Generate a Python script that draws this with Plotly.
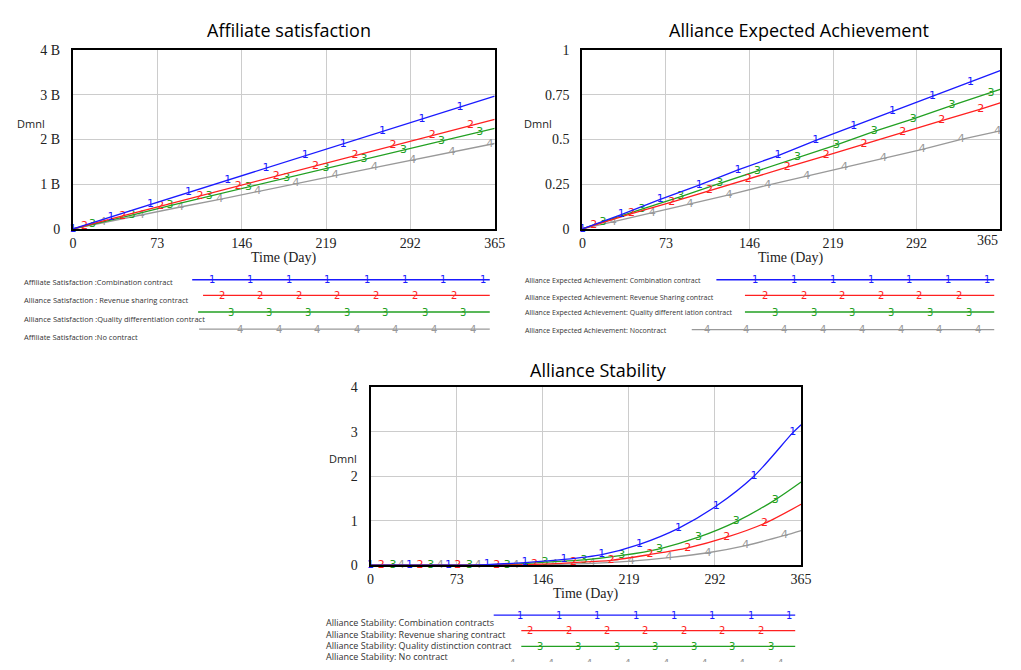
import plotly.graph_objects as go

W, H = 1021, 670
def px(x): return x / W
def py(y): return 1 - y / H

# ---------------- DATA ----------------
day_ticks = [0, 73, 146, 219, 292, 365]

# Affiliate satisfaction (in billions)
as_t_comb = [0, 33, 67, 100, 134, 167, 201, 234, 268, 302, 335, 365]
as_v_comb = [0, 0.27, 0.55, 0.81, 1.09, 1.36, 1.64, 1.90, 2.18, 2.46, 2.73, 2.97]
as_t_rev = [0, 10, 43, 76, 110, 143, 176, 210, 244, 277, 311, 344, 365]
as_v_rev = [0, 0.07, 0.29, 0.51, 0.74, 0.96, 1.18, 1.41, 1.64, 1.86, 2.09, 2.31, 2.45]
as_t_qual = [0, 17, 51, 84, 118, 152, 185, 219, 252, 286, 319, 352, 365]
as_v_qual = [0, 0.10, 0.31, 0.52, 0.73, 0.94, 1.14, 1.35, 1.55, 1.76, 1.97, 2.17, 2.25]
as_t_none = [0, 26, 59, 93, 127, 160, 193, 227, 261, 294, 328, 361, 365]
as_v_none = [0, 0.14, 0.31, 0.49, 0.66, 0.84, 1.01, 1.19, 1.37, 1.54, 1.72, 1.89, 1.91]
as_ticks = [0, 1, 2, 3, 4]
as_ticktext = ["0", "1 B", "2 B", "3 B", "4 B"]

# Alliance expected achievement
ea_t_comb = [0, 34, 68, 102, 136, 171, 204, 237, 271, 306, 339, 365]
ea_v_comb = [0, 0.08, 0.165, 0.245, 0.33, 0.41, 0.495, 0.575, 0.655, 0.74, 0.82, 0.885]
ea_t_rev = [0, 10, 43, 78, 111, 145, 179, 213, 246, 280, 314, 348, 365]
ea_v_rev = [0, 0.02, 0.085, 0.15, 0.215, 0.28, 0.345, 0.41, 0.475, 0.54, 0.605, 0.67, 0.705]
ea_t_qual = [0, 18, 52, 86, 120, 153, 188, 222, 255, 289, 323, 357, 365]
ea_v_qual = [0, 0.04, 0.11, 0.18, 0.255, 0.325, 0.40, 0.47, 0.545, 0.615, 0.69, 0.76, 0.78]
ea_t_none = [0, 27, 61, 94, 128, 162, 196, 229, 263, 297, 331, 363, 365]
ea_v_none = [0, 0.04, 0.09, 0.14, 0.19, 0.245, 0.295, 0.345, 0.395, 0.445, 0.50, 0.545, 0.548]
ea_ticks = [0, 0.25, 0.5, 0.75, 1]
ea_ticktext = ["0", "0.25", "0.5", "0.75", "1"]

# Alliance stability
st_t_comb = [0, 33, 66, 99, 131, 164, 196, 228, 261, 293, 325, 358, 365]
st_v_comb = [0, 0, 0, 0.015, 0.06, 0.13, 0.24, 0.47, 0.83, 1.33, 2.0, 2.98, 3.16]
st_t_rev = [0, 9, 42, 74, 107, 139, 172, 204, 237, 269, 302, 334, 365]
st_v_rev = [0, 0, 0, 0, 0.005, 0.02, 0.06, 0.11, 0.24, 0.39, 0.63, 0.94, 1.37]
st_t_qual = [0, 19, 51, 84, 116, 148, 181, 213, 245, 278, 310, 343, 365]
st_v_qual = [0, 0, 0, 0, 0.01, 0.07, 0.12, 0.22, 0.37, 0.63, 0.98, 1.47, 1.87]
st_t_none = [0, 26, 59, 91, 123, 156, 188, 221, 253, 286, 318, 351, 365]
st_v_none = [0, 0, 0, 0, 0, 0.02, 0.04, 0.09, 0.17, 0.28, 0.44, 0.67, 0.78]
st_ticks = [0, 1, 2, 3, 4]
st_ticktext = ["0", "1", "2", "3", "4"]

titles = ["Affiliate satisfaction", "Alliance Expected Achievement", "Alliance Stability"]
x_title = "Time (Day)"
y_unit = "Dmnl"

legend_as = ["Affiliate Satisfaction :Combination contract",
             "Alliance Satisfaction : Revenue sharing contract",
             "Alliance Satisfaction :Quality differentiation contract",
             "Affiliate Satisfaction :No contract"]
legend_ea = ["Alliance Expected Achievement: Combination contract",
             "Alliance Expected Achievement: Revenue Sharing contract",
             "Alliance Expected Achievement: Quality different iation contract",
             "Alliance Expected Achievement: Nocontract"]
legend_st = ["Alliance Stability: Combination contracts",
             "Alliance Stability: Revenue sharing contract",
             "Alliance Stability: Quality distinction contract",
             "Alliance Stability: No contract"]

colors = ["#1a1aff", "#ff2020", "#22a022", "#999999"]
labels = ["1", "2", "3", "4"]

# ---------------- FIGURE ----------------
fig = go.Figure()

def add_series(t, v, idx, xa, ya, first_marker, shape="linear"):
    n = len(t)
    txt = [labels[idx]] * n
    if not first_marker:
        txt[0] = ""
    txt[-1] = ""
    fig.add_trace(go.Scatter(
        x=t, y=v, xaxis=xa, yaxis=ya, mode="lines+text",
        text=txt, textposition="middle center",
        textfont=dict(color=colors[idx], size=11, family="DejaVu Sans"),
        line=dict(color=colors[idx], width=1.3, shape=shape,
                  smoothing=0.8 if shape == "spline" else None),
        showlegend=False, hoverinfo="skip", cliponaxis=False))

groups = [
    ("x", "y", [(as_t_comb, as_v_comb), (as_t_rev, as_v_rev), (as_t_qual, as_v_qual), (as_t_none, as_v_none)], "linear"),
    ("x2", "y2", [(ea_t_comb, ea_v_comb), (ea_t_rev, ea_v_rev), (ea_t_qual, ea_v_qual), (ea_t_none, ea_v_none)], "linear"),
    ("x3", "y3", [(st_t_comb, st_v_comb), (st_t_rev, st_v_rev), (st_t_qual, st_v_qual), (st_t_none, st_v_none)], "spline"),
]
for xa, ya, series, shape in groups:
    for i in [3, 2, 1, 0]:
        t, v = series[i]
        add_series(t, v, i, xa, ya, first_marker=(i == 0), shape=shape)

# plot boxes (pixel positions)
boxes = [
    (70, 498, 44, 227),
    (587, 1011, 44, 227),
    (372, 809, 389, 571),
]
tickfont = dict(family="Liberation Serif", size=14, color="#222")
common_x = dict(range=[0, 365], showgrid=True, gridcolor="#cccccc",
                gridwidth=1, showline=True, linecolor="black", linewidth=2, mirror=True,
                zeroline=False, tickfont=tickfont, ticks="", fixedrange=True)
common_y = dict(showgrid=True, gridcolor="#cccccc", gridwidth=1, showline=True,
                linecolor="black", linewidth=2, mirror=True, zeroline=False,
                tickfont=tickfont, ticks="", ticklabelstandoff=8, fixedrange=True)
yspecs = [(4, as_ticks, as_ticktext), (1, ea_ticks, ea_ticktext), (4, st_ticks, st_ticktext)]
axnames = [("xaxis", "yaxis", "y", "x"), ("xaxis2", "yaxis2", "y2", "x2"), ("xaxis3", "yaxis3", "y3", "x3")]
layout_axes = {}
for k, ((x0, x1, y0, y1), (ymax, tv, tt), (xn, yn, yanc, xanc)) in enumerate(zip(boxes, yspecs, axnames)):
    xticks = day_ticks if k != 1 else day_ticks[:-1]
    layout_axes[xn] = dict(common_x, domain=[px(x0), px(x1)], anchor=yanc,
                           tickvals=xticks, ticktext=[str(d) for d in xticks])
    layout_axes[yn] = dict(common_y, domain=[py(y1), py(y0)], anchor=xanc,
                           range=[0, ymax], tickvals=tv, ticktext=tt)

# helper axis (pixel units) for the bottom strip of the page, so that the
# last legend row is clipped by the page edge like in the reference
layout_axes["xaxis4"] = dict(domain=[0, 1], range=[0, W], visible=False, fixedrange=True, anchor="y4")
layout_axes["yaxis4"] = dict(domain=[0, py(655)], range=[H, 655], visible=False, fixedrange=True, anchor="x4")

annotations = []
shapes = []

# last x tick label of the top-right chart sits flush with the frame edge
annotations.append(dict(text=str(day_ticks[-1]), x=day_ticks[-1], y=py(227) - 2 / H,
                        xref="x2", yref="paper", showarrow=False, xanchor="right",
                        yanchor="top", font=tickfont))

# titles
title_pos = [(289, 24), (807, 24), (603, 371)]
for t, (x, y) in zip(titles, title_pos):
    annotations.append(dict(text=t, x=px(x), y=py(y), xref="paper", yref="paper",
                            showarrow=False, xanchor="center", yanchor="middle",
                            font=dict(family="Open Sans", size=18, color="black")))
# x titles
xt_pos = [(284, 257), (799, 257), (591, 600)]
for (x, y) in xt_pos:
    annotations.append(dict(text=x_title, x=px(x), y=py(y), xref="paper", yref="paper",
                            showarrow=False, xanchor="center", yanchor="middle",
                            font=dict(family="Liberation Serif", size=14, color="#222")))
# y units
yu_pos = [(11, 119), (526, 119), (328, 462)]
for (x, y) in yu_pos:
    annotations.append(dict(text=y_unit, x=px(x), y=py(y), xref="paper", yref="paper",
                            showarrow=False, xanchor="left", yanchor="middle",
                            font=dict(family="Open Sans", size=11, color="#222")))

# legends
def legend_block(texts, text_x, text_ys, text_size, line_ys, line_starts, line_end, marker_xs,
                 clip_last=False):
    for i in range(4):
        annotations.append(dict(text=texts[i], x=px(text_x), y=py(text_ys[i]), xref="paper",
                                yref="paper", showarrow=False, xanchor="left", yanchor="middle",
                                font=dict(family="Open Sans", size=text_size, color="#333")))
        if clip_last and i == 3:
            fig.add_trace(go.Scatter(
                x=[line_starts[i]] + marker_xs[i] + [line_end],
                y=[line_ys[i]] * (len(marker_xs[i]) + 2),
                xaxis="x4", yaxis="y4", mode="lines+text",
                text=[""] + [labels[i]] * len(marker_xs[i]) + [""],
                textposition="middle center",
                textfont=dict(color=colors[i], size=10, family="DejaVu Sans"),
                line=dict(color=colors[i], width=1.3), cliponaxis=True,
                showlegend=False, hoverinfo="skip"))
            continue
        shapes.append(dict(type="line", xref="paper", yref="paper",
                           x0=px(line_starts[i]), x1=px(line_end), y0=py(line_ys[i]), y1=py(line_ys[i]),
                           line=dict(color=colors[i], width=1.3)))
        for mx in marker_xs[i]:
            annotations.append(dict(text=labels[i], x=px(mx), y=py(line_ys[i]), xref="paper",
                                    yref="paper", showarrow=False, xanchor="center", yanchor="middle",
                                    font=dict(family="DejaVu Sans", size=10, color=colors[i])))

legend_block(legend_as, 18, [281, 300, 319, 338], 7.5, [279, 295, 312, 329.5],
             [191, 202, 197, 198], 493,
             [[211, 250, 289, 328, 368, 407, 446, 486],
              [221, 260, 299, 338, 378, 417, 457],
              [230, 269, 309, 348, 387, 427, 466],
              [240, 279, 318, 358, 397, 436, 476]])
legend_block(legend_ea, 527, [280, 297, 313, 331], 7, [279, 295, 312, 330],
             [723, 752, 752, 698], 1005,
             [[762, 802, 841, 880, 919, 958, 998],
              [772, 812, 851, 890, 929, 969],
              [782, 822, 861, 900, 940, 979],
              [713, 753, 792, 831, 871, 910, 949, 989]])
legend_block(legend_st, 325, [630, 642, 653, 664], 9, [622, 638, 654, 673],
             [497, 525, 525, 497], 803,
             [[524, 563, 602, 641, 680, 719, 758, 797],
              [534, 573, 612, 651, 690, 729, 768],
              [544, 583, 622, 661, 700, 739, 778],
              [516, 555, 594, 633, 672, 711, 749, 788]],
             clip_last=True)

fig.update_layout(
    width=W, height=H, margin=dict(l=0, r=0, t=0, b=0),
    paper_bgcolor="white", plot_bgcolor="white",
    annotations=annotations, shapes=shapes, showlegend=False,
    **layout_axes)

post = (
    "document.documentElement.style.margin='0';"
    "document.documentElement.style.overflow='hidden';"
    "document.body.style.margin='0';"
    "document.body.style.overflow='hidden';"
)
fig.write_html("out.html", config={"displayModeBar": False}, post_script=post)
